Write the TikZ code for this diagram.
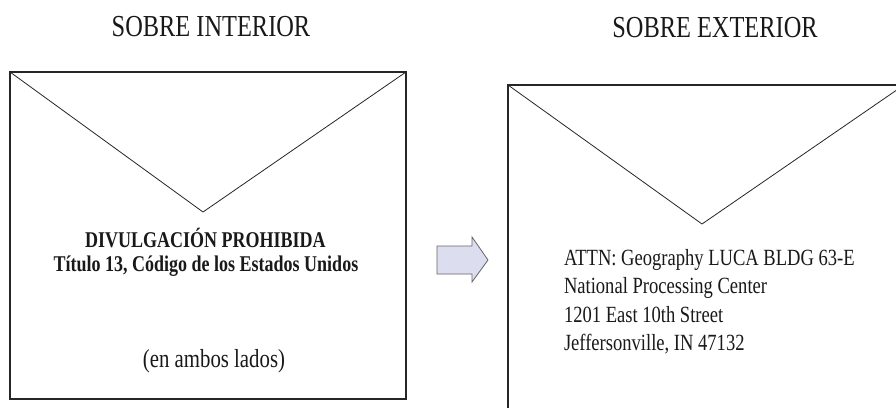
\documentclass[tikz,border=0pt]{standalone}
\usepackage{fontspec}
\setmainfont{Liberation Serif}[FakeStretch=0.8]
\begin{document}
\begin{tikzpicture}[x=1pt,y=-1pt,
  txt/.style={inner sep=0pt,outer sep=0pt,text=black!90},
  frame/.style={draw=black!85,line width=1.3pt},
  flap/.style={draw=black!85,line width=0.8pt},
  arrowshape/.style={draw=black!60,line width=0.8pt,fill={rgb,255:red,221;green,221;blue,240},line join=miter}]
\useasboundingbox (0,0) rectangle (896,407);
\clip (0,0) rectangle (896,407);
\fill[white] (0,0) rectangle (896,407);
% titles
\node[txt,anchor=base,font=\fontsize{30.5}{34}\selectfont] (t1) at (211,36) {SOBRE INTERIOR};
\node[txt,anchor=base,font=\fontsize{30.5}{34}\selectfont] (t2) at (715,37) {SOBRE EXTERIOR};
% left envelope
\draw[frame] (10,72) rectangle (406,399);
\draw[flap] (10,72) -- (203,212) -- (406,72);
\node[txt,anchor=base,font=\bfseries\fontsize{22.5}{26}\selectfont] (b1) at (205.5,247) {DIVULGACIÓN PROHIBIDA};
\node[txt,anchor=base,font=\bfseries\fontsize{22.5}{26}\selectfont] (b2) at (206,271) {Título 13, Código de los Estados Unidos};
\node[txt,anchor=base,font=\fontsize{26}{30}\selectfont] (amb) at (214,367) {(en ambos lados)};
% arrow
\draw[arrowshape] (437,246) -- (472,246) -- (472,237) -- (488,260) -- (472,282) -- (472,274) -- (437,274) -- cycle;
% right envelope
\draw[frame] (508,85) rectangle (904,420);
\draw[flap] (508,85) -- (702,224) -- (904,85);
\node[txt,anchor=base west,font=\fontsize{23.2}{28}\selectfont] (a1) at (564,265) {ATTN: Geography LUCA BLDG 63-E};
\node[txt,anchor=base west,font=\fontsize{23.2}{28}\selectfont] (a2) at (564,293) {National Processing Center};
\node[txt,anchor=base west,font=\fontsize{23.2}{28}\selectfont] (a3) at (564,322) {1201 East 10th Street};
\node[txt,anchor=base west,font=\fontsize{23.2}{28}\selectfont] (a4) at (564,350) {Jeffersonville, IN 47132};
\end{tikzpicture}
\end{document}
